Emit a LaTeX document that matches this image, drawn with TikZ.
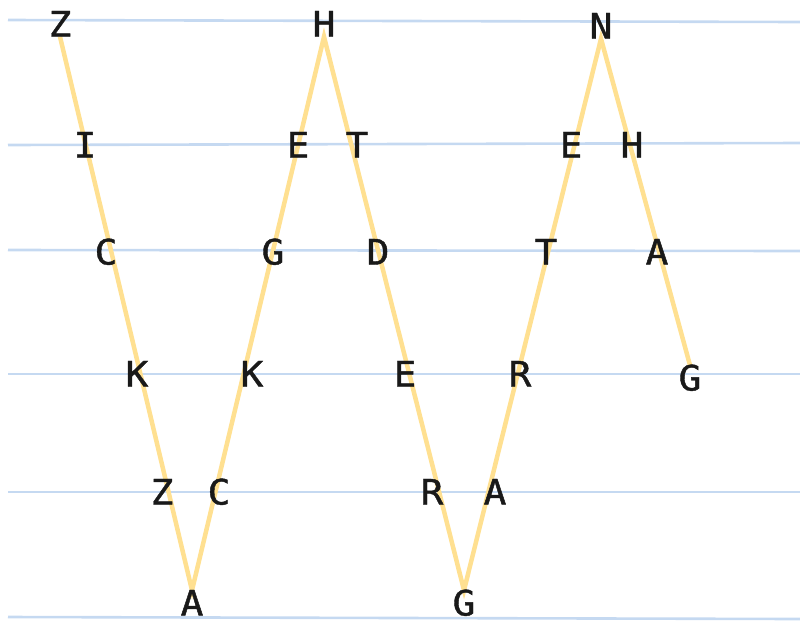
\documentclass[tikz,border=0pt]{standalone}
\usepackage{fontspec}
\newfontfamily\letterfont[FakeBold=1.2,FakeStretch=1.08]{DejaVu Sans Mono}
\definecolor{rule}{RGB}{197,217,241}
\definecolor{zig}{RGB}{255,224,145}
\pgfdeclarelayer{bg}
\pgfsetlayers{bg,main}
\tikzset{
  ruleline/.style={draw=rule, line width=2.6pt},
  zigline/.style={draw=zig, line width=4.5pt, line join=miter},
  letter/.style={inner sep=0pt, text height=25pt, text depth=0pt,
    font=\letterfont\fontsize{35}{35}\selectfont, text=black!90}
}
\begin{document}
\begin{tikzpicture}[x=1pt,y=-1pt]
\useasboundingbox (0,0) rectangle (800,625);
% letters
\node[letter] (z1) at (60,24) {Z};
\node[letter] (h1) at (324,24) {H};
\node[letter] (n1) at (601,26) {N};
\node[letter] (i1) at (85,145) {I};
\node[letter] (e1) at (298,145) {E};
\node[letter] (t1) at (357,145) {T};
\node[letter] (e2) at (571,145) {E};
\node[letter] (h2) at (632,145) {H};
\node[letter] (c1) at (106,252) {C};
\node[letter] (g1) at (273,252) {G};
\node[letter] (d1) at (378,252) {D};
\node[letter] (t2) at (546,252) {T};
\node[letter] (a1) at (657,252) {A};
\node[letter] (k1) at (137,374) {K};
\node[letter] (k2) at (252,374) {K};
\node[letter] (e3) at (405,374) {E};
\node[letter] (r1) at (520,374) {R};
\node[letter] (g2) at (690,378) {G};
\node[letter] (z2) at (162,492) {Z};
\node[letter] (c2) at (219,492) {C};
\node[letter] (r2) at (432,492) {R};
\node[letter] (a2) at (495,492) {A};
\node[letter] (a3) at (192,603) {A};
\node[letter] (g3) at (464,603) {G};
\begin{pgfonlayer}{bg}
% ruled lines
\draw[ruleline] (8,20) -- (800,22);
\draw[ruleline] (8,145) -- (800,143);
\draw[ruleline] (8,250) -- (800,251);
\draw[ruleline] (8,374) -- (800,374);
\draw[ruleline] (8,492) -- (800,492);
\draw[ruleline] (8,617) -- (800,619);
% zig-zag
\path[zigline] (z1.south) -- (a3.north) -- (h1.south) -- (g3.north) -- (n1.south) -- (g2.north);
\end{pgfonlayer}
\end{tikzpicture}
\end{document}
